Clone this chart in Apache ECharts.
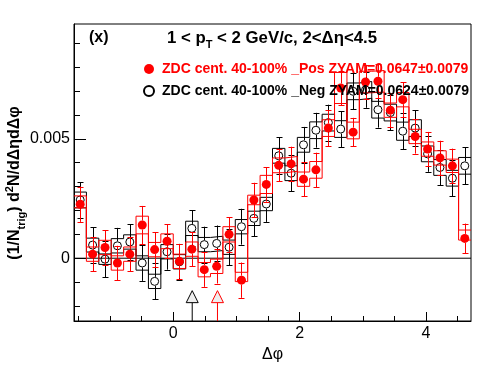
<!DOCTYPE html>
<html><head><meta charset="utf-8">
<script src="https://cdn.jsdelivr.net/npm/echarts@6/dist/echarts.min.js"></script>
<style>html,body{margin:0;padding:0;background:#fff}#c{width:496px;height:374px}</style>
</head><body><div id="c"></div>
<script>
const FONT = '"Liberation Sans", Arial, Helvetica, sans-serif';
const xMin = -Math.PI / 2, xMax = 3 * Math.PI / 2;
const yMin = -0.00263, yMax = 0.00981;
const binHalf = 0.0982;
const binCenters = [-1.4726,-1.2763,-1.0799,-0.8836,-0.6872,-0.4909,-0.2945,-0.0982,0.0982,0.2945,0.4909,0.6872,0.8836,1.0799,1.2763,1.4726,1.6690,1.8653,2.0617,2.2580,2.4544,2.6507,2.8471,3.0434,3.2398,3.4361,3.6325,3.8288,4.0252,4.2215,4.4179,4.6142];

const negName = 'ZDC cent. 40-100% _Neg ZYAM=0.0624\u00b10.0079';
const posName = 'ZDC cent. 40-100% _Pos ZYAM=0.0647\u00b10.0079';

const negVal = [0.00244,0.00055,-0.00004,0.00052,0.00068,-0.00020,-0.00097,0.00027,-0.00015,0.00125,0.00057,0.00062,0.00046,0.00132,0.00167,0.00227,0.00429,0.00356,0.00475,0.00536,0.00568,0.00541,0.00699,0.00705,0.00622,0.00610,0.00532,0.00545,0.00437,0.00380,0.00335,0.00387];
const negErr = [0.00075,0.00075,0.00075,0.00075,0.00075,0.00075,0.00075,0.00075,0.00075,0.00075,0.00075,0.00075,0.00075,0.00075,0.00075,0.00075,0.00077,0.00075,0.00075,0.00073,0.00075,0.00075,0.00075,0.00075,0.00075,0.00075,0.00075,0.00075,0.00075,0.00075,0.00075,0.00077];
const negSysUp = [0.00033,0.00029,0.00022,0.00030,0.00030,0.00030,0.00030,0.00030,0.00030,0.00030,0.00030,0.00030,0.00030,0.00030,0.00030,0.00028,0.00031,0.00031,0.00031,0.00035,0.00035,0.00035,0.00035,0.00035,0.00035,0.00035,0.00038,0.00035,0.00033,0.00033,0.00033,0.00035];
const negSysDn = negSysUp;

const posVal = [0.00226,0.00017,0.00045,-0.00020,0.00017,0.00139,0.00036,0.00071,-0.00013,0.00038,-0.00048,-0.00034,0.00100,-0.00092,0.00244,0.00309,0.00389,0.00395,0.00331,0.00370,0.00545,0.00713,0.00528,0.00738,0.00741,0.00620,0.00664,0.00510,0.00457,0.00420,0.00387,0.00083];
const posErr = [0.00074,0.00071,0.00072,0.00072,0.00072,0.00080,0.00072,0.00072,0.00072,0.00072,0.00072,0.00072,0.00072,0.00074,0.00072,0.00072,0.00067,0.00072,0.00072,0.00072,0.00075,0.00072,0.00060,0.00072,0.00072,0.00072,0.00072,0.00072,0.00072,0.00072,0.00072,0.00062];
const posSysUp = [0.00035,0.00030,0.00030,0.00030,0.00030,0.00037,0.00030,0.00031,0.00030,0.00030,0.00030,0.00030,0.00032,0.00033,0.00020,0.00038,0.00031,0.00031,0.00030,0.00035,0.00035,0.00065,0.00042,0.00045,0.00045,0.00030,0.00030,0.00030,0.00030,0.00030,0.00028,0.00035];
const posSysDn = [0.00015,0.00030,0.00030,0.00030,0.00030,0.00037,0.00030,0.00031,0.00030,0.00030,0.00030,0.00030,0.00032,0.00006,0.00020,0.00038,0.00031,0.00031,0.00030,0.00035,0.00035,0.00065,0.00028,0.00045,0.00045,0.00030,0.00030,0.00030,0.00030,0.00030,0.00028,0.00007];

const zyamX = [0.3, 0.7];
const zyamColor = ['#000000', '#ff0000'];
const arrowY = -0.00161, arrowBaseY = -0.00186;

const xMajor = [0, 2, 4];
const xMinor = [-1.5, -1, -0.5, 0.5, 1, 1.5, 2.5, 3, 3.5, 4.5];
const yMajor = [0, 0.005];
const yMinor = [-0.002, -0.001, 0.001, 0.002, 0.003, 0.004, 0.006, 0.007, 0.008, 0.009];

function stepData(vals, off, sign) {
  const d = [];
  binCenters.forEach((c, i) => {
    const v = vals[i] + sign * off[i];
    d.push([c - binHalf, v], [c + binHalf, v]);
  });
  return d;
}
function stepSeries(vals, off, sign, color, z) {
  return { type: 'line', data: stepData(vals, off, sign), symbol: 'none', showSymbol: false,
    lineStyle: { color: color, width: 1 }, silent: true, z: z, animation: false };
}
function errSeries(vals, errs, color, r, z) {
  return {
    type: 'custom', silent: true, z: z, animation: false,
    data: binCenters.map((x, i) => [x, vals[i], errs[i]]),
    encode: { x: 0, y: 1 },
    renderItem: function (params, api) {
      const x = api.value(0), y = api.value(1), e = api.value(2);
      const p = api.coord([x, y]);
      const pt = api.coord([x, y + e]);
      const pb = api.coord([x, y - e]);
      const px = Math.round(p[0]) + 0.5;
      const st = { stroke: color, lineWidth: 1 };
      const ch = [];
      if (pt[1] < p[1] - r) ch.push({ type: 'line', shape: { x1: px, y1: pt[1], x2: px, y2: p[1] - r }, style: st });
      if (pb[1] > p[1] + r) ch.push({ type: 'line', shape: { x1: px, y1: p[1] + r, x2: px, y2: pb[1] }, style: st });
      ch.push({ type: 'line', shape: { x1: px - 3, y1: Math.round(pt[1]) + 0.5, x2: px + 3, y2: Math.round(pt[1]) + 0.5 }, style: st });
      ch.push({ type: 'line', shape: { x1: px - 3, y1: Math.round(pb[1]) + 0.5, x2: px + 3, y2: Math.round(pb[1]) + 0.5 }, style: st });
      return { type: 'group', children: ch };
    }
  };
}

const series = [
  { type: 'line', data: [[xMin, 0], [xMax, 0]], symbol: 'none', lineStyle: { color: '#000', width: 1 }, silent: true, z: 1 },
  stepSeries(negVal, negSysUp, 1, '#000', 2),
  stepSeries(negVal, negSysDn, -1, '#000', 2),
  errSeries(negVal, negErr, '#000', 4.5, 3),
  { type: 'scatter', name: negName, data: binCenters.map((x, i) => [x, negVal[i]]), symbol: 'circle', symbolSize: 8,
    itemStyle: { color: 'rgba(255,255,255,0)', borderColor: '#000', borderWidth: 1, opacity: 1 }, z: 4, silent: true },
  stepSeries(posVal, posSysUp, 1, '#ff0000', 5),
  stepSeries(posVal, posSysDn, -1, '#ff0000', 5),
  errSeries(posVal, posErr, '#ff0000', 4.5, 6),
  { type: 'scatter', name: posName, data: binCenters.map((x, i) => [x, posVal[i]]), symbol: 'circle', symbolSize: 9,
    itemStyle: { color: '#ff0000', opacity: 1 }, z: 7, silent: true }
];
zyamX.forEach((x, k) => {
  series.push({ type: 'line', data: [[x, arrowBaseY], [x, yMin]], symbol: 'none', lineStyle: { color: zyamColor[k], width: 1 }, silent: true, z: 8 });
  series.push({ type: 'scatter', data: [[x, arrowY]], symbol: 'triangle', symbolSize: [12, 12],
    itemStyle: { color: '#eeeeee', borderColor: zyamColor[k], borderWidth: 1, opacity: 1 }, silent: true, z: 9 });
});

const tickLbl = { fontSize: 16, color: '#000', fontFamily: FONT };
const chart = echarts.init(document.getElementById('c'), null, { renderer: 'canvas' });
chart.setOption({
  animation: false,
  backgroundColor: '#fff',
  grid: { left: 74, top: 24, width: 397, height: 297, show: true, borderColor: '#000', borderWidth: 1, containLabel: false, outerBoundsMode: 'none' },
  xAxis: [
    { type: 'value', min: xMin, max: xMax, position: 'bottom', axisLine: { show: true, onZero: false, lineStyle: { color: '#000' } },
      axisTick: { show: true, inside: true, length: 9, customValues: xMajor, lineStyle: { color: '#000' } },
      axisLabel: { show: true, customValues: xMajor, margin: 5, ...tickLbl, formatter: v => String(v) },
      splitLine: { show: false },
      name: '\u0394\u03c6', nameLocation: 'middle', nameGap: 24, nameTextStyle: { fontSize: 16, color: '#000', fontFamily: FONT } },
    { type: 'value', min: xMin, max: xMax, position: 'bottom', axisLine: { show: false, onZero: false },
      axisTick: { show: true, inside: true, length: 5, customValues: xMinor, lineStyle: { color: '#000' } },
      axisLabel: { show: false }, splitLine: { show: false } }
  ],
  yAxis: [
    { type: 'value', min: yMin, max: yMax, position: 'left', axisLine: { show: true, onZero: false, lineStyle: { color: '#000' } },
      axisTick: { show: true, inside: true, length: 12, customValues: yMajor, lineStyle: { color: '#000' } },
      axisLabel: { show: true, customValues: yMajor, margin: 4, ...tickLbl, formatter: v => (Math.abs(v) < 1e-9 ? '0' : String(+v.toFixed(3))) },
      splitLine: { show: false } },
    { type: 'value', min: yMin, max: yMax, position: 'left', axisLine: { show: false, onZero: false },
      axisTick: { show: true, inside: true, length: 6, customValues: yMinor, lineStyle: { color: '#000' } },
      axisLabel: { show: false }, splitLine: { show: false } }
  ],
  legend: {
    orient: 'vertical', left: 143, top: 62, itemGap: 8, itemWidth: 10, itemHeight: 10, padding: 0, z: 20,
    selectedMode: false,
    data: [
      { name: posName, textStyle: { color: '#ff0000' } },
      { name: negName, textStyle: { color: '#000000' } }
    ],
    textStyle: { fontSize: 14, fontWeight: 'bold', fontFamily: FONT, padding: [0, 0, 0, 3] }
  },
  graphic: [
    { type: 'text', x: 89, y: 38, z: 20, style: { text: '(x)', fontSize: 16, fontWeight: 'bold', fontFamily: FONT, fill: '#000', verticalAlign: 'middle' } },
    { type: 'text', x: 167, y: 38, z: 20, style: { text: '1 < p{s|T} < 2 GeV/c, 2<\u0394\u03b7<4.5', fontSize: 16.8, fontWeight: 'bold', fontFamily: FONT, fill: '#000', verticalAlign: 'middle',
        rich: { s: { fontSize: 11, fontWeight: 'bold', fontFamily: FONT, padding: [14, 0, 0, 0] } } } },
    { type: 'text', x: 15, y: 183, rotation: Math.PI / 2, z: 20, style: { text: '(1/N{s|trig}) d{p|2}N/d\u0394\u03b7d\u0394\u03c6', fontSize: 16, fontWeight: 'bold', fontFamily: FONT, fill: '#000', align: 'center', verticalAlign: 'middle',
        rich: { s: { fontSize: 11, fontWeight: 'bold', fontFamily: FONT, padding: [14, 0, 0, 0] }, p: { fontSize: 11, fontWeight: 'bold', fontFamily: FONT, padding: [0, 0, 10, 0] } } } }
  ],
  series: series
});
</script></body></html>
